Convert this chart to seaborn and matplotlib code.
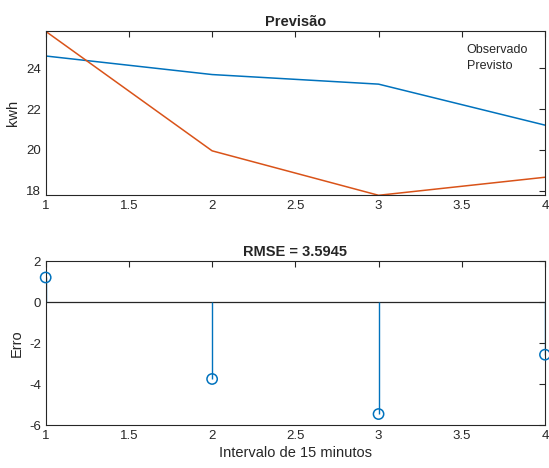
import numpy as np
import pandas as pd
import matplotlib
matplotlib.use("Agg")
import matplotlib.pyplot as plt
import seaborn as sns

# Energy consumption per 15-minute interval
intervalo = [1, 2, 3, 4]
observado = [24.60, 23.69, 23.22, 21.21]
previsto = [25.81, 19.95, 17.77, 18.655]

erro = [p - o for p, o in zip(previsto, observado)]
rmse = float(np.sqrt(np.mean(np.square(erro))))

BLUE = "#0072BD"
ORANGE = "#D95319"
AX_COLOR = "#262626"

sns.set_style("white")
plt.rcParams["font.family"] = ["Liberation Sans", "DejaVu Sans"]
plt.rcParams.update({
    "axes.unicode_minus": False,
    "axes.edgecolor": AX_COLOR,
    "axes.linewidth": 0.8,
    "xtick.color": AX_COLOR,
    "ytick.color": AX_COLOR,
    "xtick.labelcolor": AX_COLOR,
    "ytick.labelcolor": AX_COLOR,
    "xtick.direction": "in",
    "ytick.direction": "in",
    "xtick.top": True,
    "ytick.right": True,
    "xtick.major.size": 4,
    "ytick.major.size": 4,
    "xtick.major.width": 0.8,
    "ytick.major.width": 0.8,
    "xtick.labelsize": 9.5,
    "ytick.labelsize": 9.5,
})

fig = plt.figure(figsize=(5.49, 4.68), dpi=100)
ax1 = fig.add_axes([0.0832, 0.5827, 0.9095, 0.3504])
ax2 = fig.add_axes([0.0832, 0.0912, 0.9095, 0.3505])

df = pd.DataFrame({
    "Intervalo": intervalo * 2,
    "kwh": observado + previsto,
    "Serie": ["Observado"] * 4 + ["Previsto"] * 4,
})

sns.lineplot(data=df, x="Intervalo", y="kwh", hue="Serie",
             palette=[BLUE, ORANGE], linewidth=1.1, ax=ax1)
ax1.set_xlim(1, 4)
ax1.set_ylim(min(observado + previsto), max(observado + previsto))
ax1.set_xticks([1, 1.5, 2, 2.5, 3, 3.5, 4])
ax1.set_xticklabels(["1", "1.5", "2", "2.5", "3", "3.5", "4"])
ax1.set_yticks([18, 20, 22, 24])
ax1.set_xlabel("")
ax1.set_ylabel("kwh", fontsize=10.5, color=AX_COLOR, labelpad=4)
ax1.set_title("Previsão", fontsize=10.5, fontweight="bold", pad=4)
leg = ax1.legend(loc="upper right", bbox_to_anchor=(0.966, 0.92),
                 frameon=False, fontsize=9, handlelength=0,
                 handletextpad=0, borderaxespad=0, borderpad=0,
                 labelspacing=0.25)
for h in leg.legend_handles:
    h.set_visible(False)
for t in leg.get_texts():
    t.set_color(AX_COLOR)

# Error stem plot
ax2.axhline(0, color=AX_COLOR, linewidth=0.9, zorder=1)
ax2.vlines(intervalo, 0, erro, color=BLUE, linewidth=1.0, zorder=2)
sns.scatterplot(x=intervalo, y=erro, marker="o", s=55,
                facecolors="none", edgecolor=BLUE, linewidth=1.1,
                ax=ax2, zorder=3, clip_on=False)
ax2.set_xlim(1, 4)
ax2.set_ylim(-6, 2)
ax2.set_xticks([1, 1.5, 2, 2.5, 3, 3.5, 4])
ax2.set_xticklabels(["1", "1.5", "2", "2.5", "3", "3.5", "4"])
ax2.set_yticks([-6, -4, -2, 0, 2])
ax2.set_ylabel("Erro", fontsize=10.5, color=AX_COLOR, labelpad=4)
ax2.set_xlabel("Intervalo de 15 minutos", fontsize=10.5, color=AX_COLOR, labelpad=3)
ax2.set_title(f"RMSE = {rmse:.4f}", fontsize=10.5, fontweight="bold", pad=4)

for ax in (ax1, ax2):
    for s in ax.spines.values():
        s.set_visible(True)
        s.set_color(AX_COLOR)

fig.savefig("out.png", dpi=100)
